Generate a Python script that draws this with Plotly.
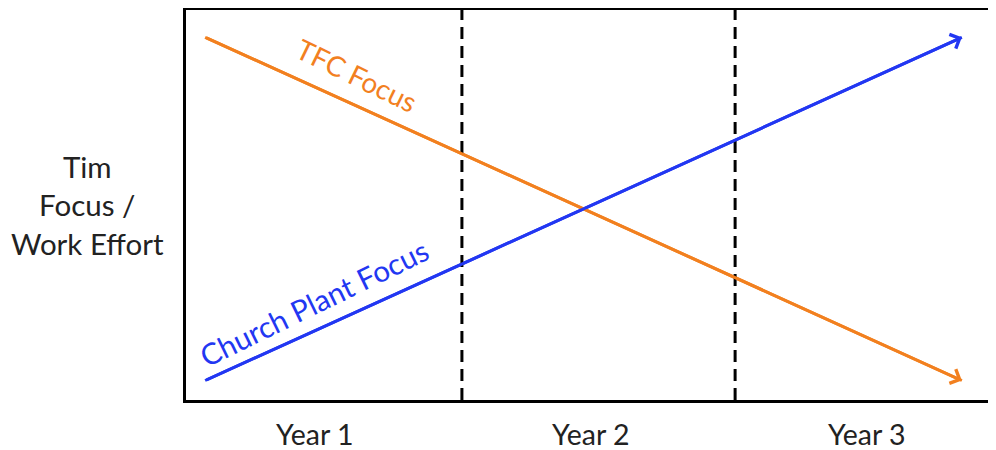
import plotly.graph_objects as go

# Data
years = ["Year 1", "Year 2", "Year 3"]
year_label_x = [0.46, 1.47, 2.48]
dividers = [1, 2]
tfc_x = [0.06, 2.83]
tfc_y = [9.3, 0.5]
plant_x = [0.06, 2.83]
plant_y = [0.5, 9.3]
tfc_label = "TFC Focus"
plant_label = "Church Plant Focus"
y_title = "Tim<br>Focus /<br>Work Effort"

ORANGE = "#F2801F"
BLUE = "#2237F2"
FONT = "Lato"

fig = go.Figure()
fig.add_trace(go.Scatter(x=tfc_x, y=tfc_y, mode="lines",
                         line=dict(color=ORANGE, width=3), hoverinfo="skip"))
fig.add_trace(go.Scatter(x=plant_x, y=plant_y, mode="lines",
                         line=dict(color=BLUE, width=3), hoverinfo="skip"))

ann = []
for xs, ys, c in [(tfc_x, tfc_y, ORANGE), (plant_x, plant_y, BLUE)]:
    ann.append(dict(x=xs[1], y=ys[1], ax=xs[0], ay=ys[0], xref="x", yref="y",
                    axref="x", ayref="y", text="", showarrow=True,
                    arrowhead=4, arrowsize=1, arrowwidth=3, arrowcolor=c))

ann.append(dict(x=0.615, y=8.33, xref="x", yref="y", text=tfc_label,
                showarrow=False, textangle=26,
                font=dict(family=FONT, size=28, color=ORANGE)))
ann.append(dict(x=0.46, y=2.5, xref="x", yref="y", text=plant_label,
                showarrow=False, textangle=-26,
                font=dict(family=FONT, size=29.5, color=BLUE)))

for lbl, xv in zip(years, year_label_x):
    ann.append(dict(x=xv, y=-0.086, xref="x", yref="paper", text=lbl,
                    showarrow=False, yanchor="middle", borderpad=0,
                    font=dict(family=FONT, size=28.5, color="#222222")))

ann.append(dict(x=-0.121, y=0.5, xref="paper", yref="paper", text=y_title,
                showarrow=False, xanchor="center", yanchor="middle",
                align="center",
                font=dict(family=FONT, size=29.5, color="#222222")))

shapes = []
for d in dividers:
    shapes.append(dict(type="line", x0=d, x1=d, y0=0, y1=1, xref="x", yref="paper",
                       line=dict(color="black", width=3, dash="12px,7px")))

# page body has an 8px margin, so the figure is sized to end at the window edge
fig.update_layout(
    width=988, height=442,
    margin=dict(l=178, r=0, t=2, b=50),
    paper_bgcolor="white", plot_bgcolor="white",
    showlegend=False,
    xaxis=dict(range=[-0.01, 2.955], showgrid=False, zeroline=False,
               showticklabels=False, ticks="", showline=True, mirror=True,
               linecolor="black", linewidth=3, fixedrange=True),
    yaxis=dict(range=[0, 10], showgrid=False, zeroline=False,
               showticklabels=False, ticks="", showline=True, mirror=False,
               linecolor="black", linewidth=3, fixedrange=True),
    annotations=ann, shapes=shapes,
)

fig.write_html("out.html")
